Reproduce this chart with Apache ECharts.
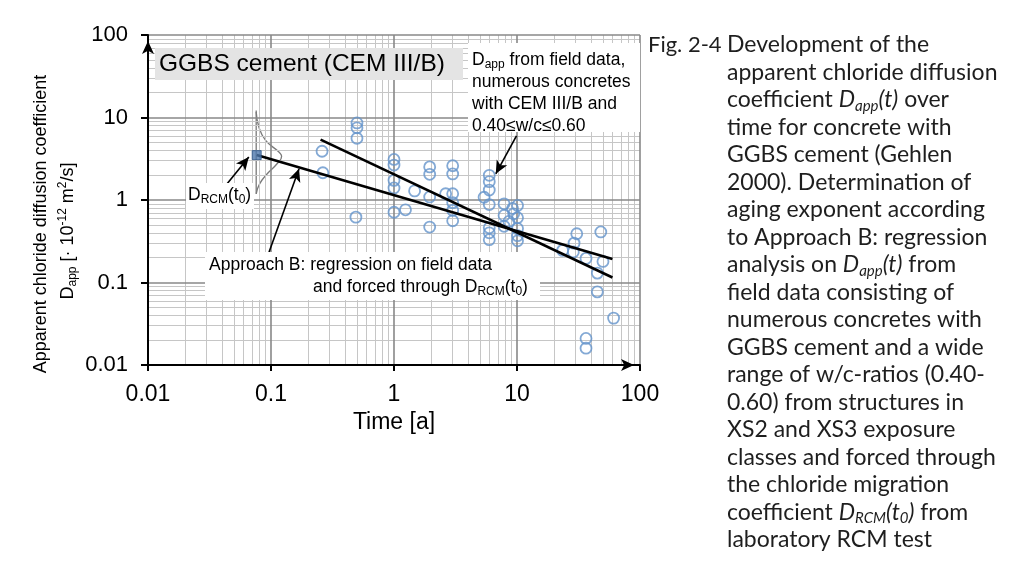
<!DOCTYPE html>
<html><head><meta charset="utf-8">
<script src="https://cdn.jsdelivr.net/npm/echarts@6/dist/echarts.min.js"></script>
<style>html,body{margin:0;padding:0;background:#fff;}#c{width:1024px;height:575px;}</style>
</head><body><div id="c"></div>
<script>
// ---- data ----
const timeYears = [0.26,0.264,0.5,0.5,0.5,0.49,1.0,1.0,1.0,1.0,1.0,1.24,1.47,1.95,1.95,1.95,1.95,2.63,3.0,3.0,3.0,3.0,3.0,3.0,5.4,5.95,5.95,5.95,5.95,5.95,5.95,5.95,7.85,7.85,7.85,8.6,9.2,9.4,10.1,10.1,10.1,10.1,10.1,23.5,28.7,29.1,30.6,36.4,36.4,36.4,45,45,48,50,61];
const dAppValues = [3.9,2.14,8.6,7.5,5.6,0.62,3.1,2.65,1.73,1.4,0.71,0.76,1.29,2.52,2.05,1.09,0.47,1.19,2.6,2.07,1.19,0.93,0.75,0.56,1.08,1.99,1.67,1.32,0.88,0.46,0.40,0.33,0.90,0.65,0.48,0.55,0.79,0.68,0.86,0.61,0.45,0.37,0.32,0.245,0.235,0.30,0.39,0.196,0.021,0.016,0.13,0.077,0.41,0.18,0.037];
const rcmTime = [0.0765];
const rcmValue = [3.5];
const fitForcedT = [0.0765, 59.7];
const fitForcedD = [3.5, 0.193];
const fitFieldT = [0.253, 59.7];
const fitFieldD = [5.4, 0.115];
const bellT = [0.0758,0.0797,0.0904,0.116,0.122,0.112,0.0932,0.0808,0.0758];
const bellD = [11.7,7.68,5.29,3.81,3.38,2.75,2.08,1.57,1.19];
const bellBaseT = [0.0758,0.0758];
const bellBaseD = [12.2,1.19];
const xTickLabels = ['0.01','0.1','1','10','100'];
const yTickLabels = ['0.01','0.1','1','10','100'];
const xMajorGrid = [0.1,1,10,100];
const yMajorGrid = [0.1,1,10,100];
const minorFactors = [2,3,4,5,6,7,8,9];
const decades = [0.01,0.1,1,10];
// annotation arrows: [fromT, fromD, toT, toD]
const arrowDrcm = [0.044,1.57,0.066,3.31];
const arrowApproach = [0.096,0.23,0.169,2.39];
const arrowField = [9.9,6.0,6.72,2.08];

const captionLines = [
 'Development of the',
 'apparent chloride diffusion',
 'coefficient {i|D}{s|app}{i|(t)} over',
 'time for concrete with',
 'GGBS cement (Gehlen',
 '2000). Determination of',
 'aging exponent according',
 'to Approach B: regression',
 'analysis on {i|D}{s|app}{i|(t)} from',
 'field data consisting of',
 'numerous concretes with',
 'GGBS cement and a wide',
 'range of w/c-ratios (0.40-',
 '0.60) from structures in',
 'XS2 and XS3 exposure',
 'classes and forced through',
 'the chloride migration',
 'coefficient {i|D}{s|RCM}{i|(t}{s|0}{i|)} from',
 'laboratory RCM test'
];

const zip = (a,b) => a.map((v,i)=>[v,b[i]]);
const minorVals = [];
decades.forEach(d => minorFactors.forEach(k => minorVals.push(+(k*d).toPrecision(3))));

const AR = '"Liberation Sans", Arial, sans-serif';
const CAP = 'Lato, "Open Sans", sans-serif';
const ink = '#1e1e1e';

const arrowLine = a => [{coord:[a[0],a[1]], symbol:'none'},{coord:[a[2],a[3]], symbol:'arrow', symbolSize:[9,13]}];

const chart = echarts.init(document.getElementById('c'));
const annRich = {
  s:{fontFamily:AR,fontSize:12,lineHeight:12,verticalAlign:'bottom',color:'#000'},
  n:{fontFamily:AR,fontSize:17.5,lineHeight:22,color:'#000'}
};
const capRich = {
  i:{fontFamily:CAP,fontSize:23,fontStyle:'italic',lineHeight:27.5,color:ink},
  s:{fontFamily:CAP,fontSize:15,fontStyle:'italic',lineHeight:14,verticalAlign:'bottom',color:ink}
};

const option = {
  animation:false,
  backgroundColor:'#fff',
  grid:{left:148,right:384,top:35,bottom:210,containLabel:false},
  xAxis:{type:'log',logBase:10,min:0.01,max:100,z:10,
    axisLine:{lineStyle:{color:'#000',width:2},symbol:['none','arrow'],symbolSize:[9,13],symbolOffset:[0,-6]},
    axisTick:{show:true,length:6,lineStyle:{color:'#000',width:2}},
    splitLine:{show:false},minorTick:{show:false},
    axisLabel:{color:'#000',fontFamily:AR,fontSize:23,margin:18,
      formatter:v=>xTickLabels[Math.round(Math.log10(v))+2]},
    name:'Time [a]',nameLocation:'middle',nameGap:46,
    nameTextStyle:{color:'#000',fontFamily:AR,fontSize:23}},
  yAxis:{type:'log',logBase:10,min:0.01,max:100,z:10,
    axisLine:{lineStyle:{color:'#000',width:2},symbol:['none','arrow'],symbolSize:[9,13],symbolOffset:[0,-6]},
    axisTick:{show:true,length:7,lineStyle:{color:'#000',width:2}},
    splitLine:{show:false},
    axisLabel:{color:'#000',fontFamily:AR,fontSize:22,margin:20,
      formatter:v=>yTickLabels[Math.round(Math.log10(v))+2]}},
  series:[
    {type:'line',name:'minorGrid',data:[],z:1,silent:true,
      markLine:{silent:true,symbol:['none','none'],label:{show:false},animation:false,
        lineStyle:{color:'#c6c6c6',width:1,type:'solid'},
        emphasis:{disabled:true},
        data:[...minorVals.map(v=>({xAxis:v})),...minorVals.map(v=>({yAxis:v}))]}},
    {type:'line',name:'majorGrid',data:[],z:2,silent:true,
      markLine:{silent:true,symbol:['none','none'],label:{show:false},animation:false,
        lineStyle:{color:'#888888',width:1.6,type:'solid'},
        emphasis:{disabled:true},
        data:[...xMajorGrid.map(v=>({xAxis:v})),...yMajorGrid.map(v=>({yAxis:v}))]}},
    {type:'line',name:'bellBase',data:zip(bellBaseT,bellBaseD),z:4,symbol:'none',silent:true,
      lineStyle:{color:'#7a7a7a',width:1.3}},
    {type:'line',name:'bell',data:zip(bellT,bellD),smooth:0.5,z:4,symbol:'none',silent:true,
      lineStyle:{color:'#7a7a7a',width:1.3}},
    {type:'scatter',name:'field',data:zip(timeYears,dAppValues),z:5,symbol:'circle',symbolSize:11,
      itemStyle:{color:'rgba(255,255,255,0)',borderColor:'#6493ca',borderWidth:1.8}},
    {type:'line',name:'fitField',data:zip(fitFieldT,fitFieldD),z:6,symbol:'none',
      lineStyle:{color:'#000',width:2.6}},
    {type:'line',name:'fitForced',data:zip(fitForcedT,fitForcedD),z:6,symbol:'none',
      lineStyle:{color:'#000',width:2.6}},
    {type:'scatter',name:'rcm',data:zip(rcmTime,rcmValue),z:7,symbol:'rect',symbolSize:9,
      itemStyle:{color:'#4d78ad',borderColor:'#2e5688',borderWidth:1}},
    {type:'line',name:'arrows',data:[],z:8,silent:true,
      markLine:{silent:true,label:{show:false},animation:false,
        lineStyle:{color:'#000',width:1.6,type:'solid'},itemStyle:{color:'#000'},
        emphasis:{disabled:true},
        data:[arrowLine(arrowDrcm),arrowLine(arrowApproach),arrowLine(arrowField)]}}
  ],
  graphic:[
    // y axis title
    {type:'text',x:41,y:224,rotation:Math.PI/2,z:20,
      style:{text:'Apparent chloride diffusion coefficient',font:'18px '+AR,fill:'#000',align:'center',verticalAlign:'middle'}},
    {type:'text',x:68,y:231,rotation:Math.PI/2,z:20,
      style:{text:'{n|D}{s|app}{n| [· 10}{p|-12}{n| m}{p|2}{n|/s]}',align:'center',verticalAlign:'middle',
        rich:{n:{fontFamily:AR,fontSize:18,lineHeight:22,color:'#000'},
              s:{fontFamily:AR,fontSize:12,lineHeight:12,verticalAlign:'bottom',color:'#000'},
              p:{fontFamily:AR,fontSize:12,lineHeight:12,verticalAlign:'top',color:'#000'}}}},
    // GGBS label
    {type:'rect',shape:{x:155,y:48,width:308,height:32},z:20,style:{fill:'#e4e4e4'}},
    {type:'text',x:159,y:64,z:21,style:{text:'GGBS cement (CEM III/B)',font:'24.5px '+AR,fill:'#000',verticalAlign:'middle'}},
    // field data box
    {type:'rect',shape:{x:468,y:43,width:172,height:89},z:20,style:{fill:'#fff'}},
    {type:'text',x:472,y:49,z:21,style:{
      text:'{n|D}{s|app}{n| from field data,}\n{n|numerous concretes}\n{n|with CEM III/B and}\n{n|0.40≤w/c≤0.60}',
      rich:annRich}},
    // Approach B box
    {type:'rect',shape:{x:205,y:252,width:335,height:48},z:20,style:{fill:'#fff'}},
    {type:'text',x:209,y:254,z:21,style:{text:'{n|Approach B: regression on field data}',rich:annRich}},
    {type:'text',x:313,y:276,z:21,style:{text:'{n|and forced through D}{s|RCM}{n|(t}{s|0}{n|)}',rich:annRich}},
    // DRCM label
    {type:'rect',shape:{x:186,y:183,width:68,height:26},z:20,style:{fill:'#fff'}},
    {type:'text',x:188,y:184,z:21,style:{text:'{n|D}{s|RCM}{n|(t}{s|0}{n|)}',rich:annRich}},
    // caption
    {type:'text',x:648,y:31,z:21,style:{text:'Fig. 2-4',font:'22px '+CAP,fill:ink,lineHeight:27.5}},
    {type:'text',x:727,y:31,z:21,style:{text:captionLines.join('\n'),fontFamily:CAP,fontSize:23,fill:ink,lineHeight:27.5,rich:capRich}}
  ]
};
chart.setOption(option);
</script></body></html>
